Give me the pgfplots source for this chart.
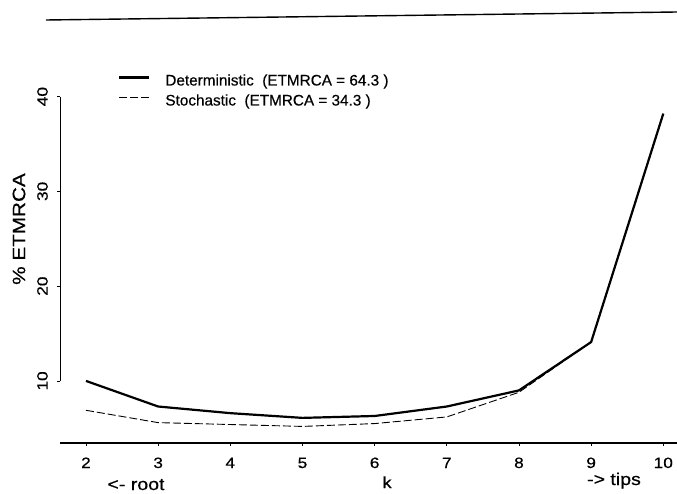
\documentclass[border=0pt]{standalone}
\usepackage{fontspec}
\setmainfont{Liberation Sans}[FakeStretch=1.15, FakeBold=0.5]
\newfontfamily\keyfont{Liberation Sans}[FakeBold=0.5]
\usepackage{pgfplots}
\usepackage{pgfplotstable}
\pgfplotsset{compat=1.18}

% share of ETMRCA for each k, two models
\pgfplotstableread{
k   det   sto
2   10.0  6.9
3   7.3   5.6
4   6.6   5.4
5   6.1   5.2
6   6.3   5.5
7   7.3   6.2
8   9.0   8.8
9   14.1  14.1
10  38.2  38.2
}\etmrca

\begin{document}
\begin{tikzpicture}[x=1pt,y=1pt]
\useasboundingbox (0,0) rectangle (677,493);
% rule across the top of the page
\draw[line width=1.4pt] (46,473) -- (677,481);
\begin{axis}[
  at={(60pt,50pt)}, anchor=south west,
  scale only axis, width=617pt, height=354pt,
  xmin=1.64, xmax=10.19, ymin=3.45, ymax=40.8,
  axis line style={draw=none},
  clip=false,
  tick pos=left,
  xtick={2,...,10}, ytick={10,20,30,40},
  tick align=outside, major tick length=3pt,
  tick style={black, line width=0.7pt},
  /pgf/number format/assume math mode=true,
  ticklabel style={font=\fontsize{15}{17}\selectfont},
  xticklabel style={anchor=base, inner sep=0pt, yshift=-22pt},
  yticklabel style={rotate=90, anchor=south, inner sep=0pt},
  yticklabel shift=9pt,
  legend style={draw=none, fill=none, at={(0.094,1.05)}, anchor=north west,
    font=\keyfont\fontsize{15.3}{18}\selectfont, inner sep=0pt, row sep=0pt,
    nodes={text height=12pt, text depth=4pt, inner sep=2pt}},
  legend cell align=left,
  legend image code/.code={\draw[#1] (0pt,4pt) -- (30pt,4pt); \path (43pt,4pt);},
]
\addplot[black, line width=2.2pt] table[x=k, y=det] {\etmrca};
\addlegendentry{Deterministic\ \ (ETMRCA = 64.3 )}
\addplot[black, line width=0.9pt, dash pattern=on 8pt off 3pt] table[x=k, y=sto] {\etmrca};
\addlegendentry{Stochastic\ \ (ETMRCA = 34.3 )}
% axis lines in the style of the original device
\draw[line width=1.8pt] (rel axis cs:0,0) -- (rel axis cs:1,0);
\draw[line width=0.7pt] (axis cs:1.64,10) -- (axis cs:1.64,40);
\end{axis}
\node[rotate=90, font=\fontsize{18}{20}\selectfont] at (19,264) {\% ETMRCA};
\node[anchor=base, font=\fontsize{16}{18}\selectfont] at (387,5) {k};
\node[anchor=base, font=\fontsize{17}{19}\selectfont] at (136,3) {<- root};
\node[anchor=base, font=\fontsize{17}{19}\selectfont] at (614,8) {-> tips};
\end{tikzpicture}
\end{document}
